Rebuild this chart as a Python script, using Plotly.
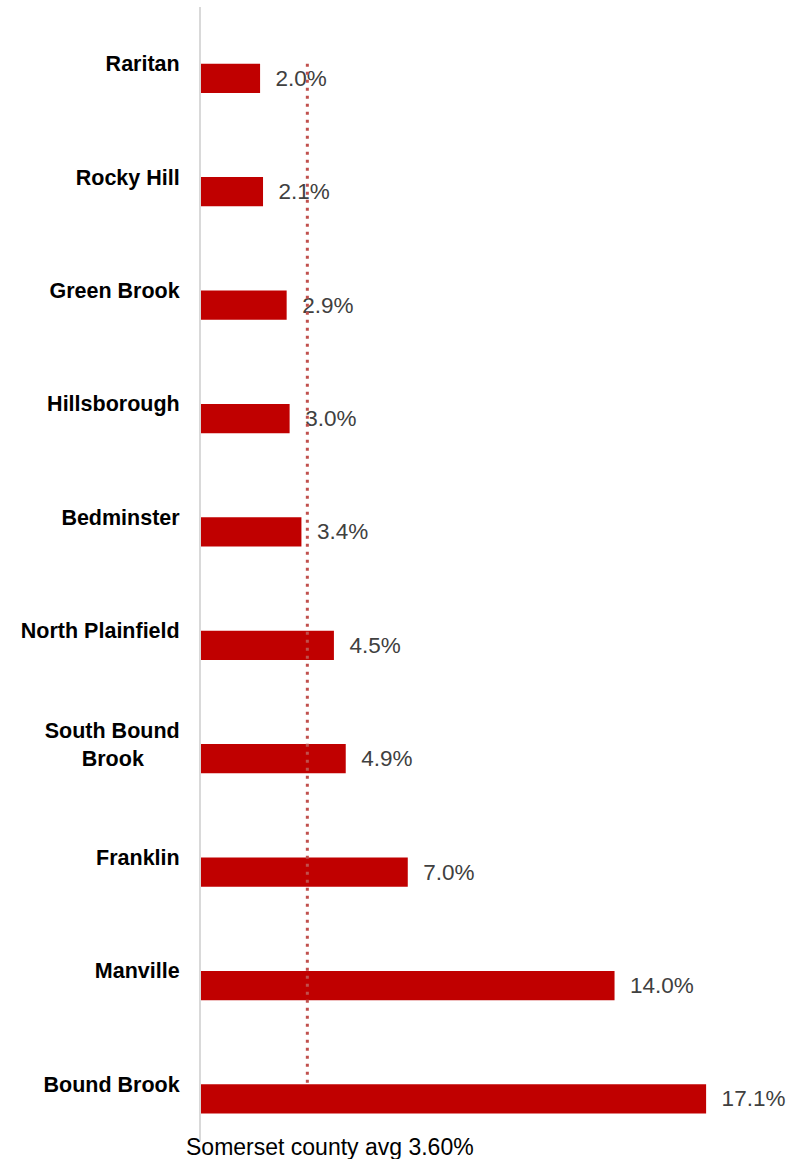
import plotly.graph_objects as go

categories = ["Raritan", "Rocky Hill", "Green Brook", "Hillsborough", "Bedminster",
              "North Plainfield", "South Bound Brook", "Franklin", "Manville", "Bound Brook"]
tick_labels = ["Raritan", "Rocky Hill", "Green Brook", "Hillsborough", "Bedminster",
               "North Plainfield", "South Bound<br>Brook" + "\u00a0" * 6, "Franklin", "Manville", "Bound Brook"]
values = [2.0, 2.1, 2.9, 3.0, 3.4, 4.5, 4.9, 7.0, 14.0, 17.1]
county_avg = 3.6
avg_label = "Somerset county avg 3.60%"

FONT = "Liberation Sans, Arial, sans-serif"

fig = go.Figure()
fig.add_trace(go.Bar(
    x=values, y=categories, orientation="h",
    marker=dict(color="#C00000", line=dict(width=0)),
    width=0.258, offset=0,
    text=["\u00a0\u00a0" + f"{v:.1f}%" for v in values],
    textposition="outside", constraintext="none", cliponaxis=False,
    textfont=dict(family=FONT, size=22.5, color="#404040"),
    hoverinfo="skip",
))
fig.add_trace(go.Scatter(
    x=[county_avg, county_avg], y=[categories[0], categories[-1]],
    mode="lines", line=dict(color="rgb(192,80,77)", width=3, dash="3px,5px"),
    hoverinfo="skip", cliponaxis=False,
))

fig.update_layout(
    width=792, height=1159,
    margin=dict(l=201, r=15, t=7, b=18),
    paper_bgcolor="white", plot_bgcolor="white",
    showlegend=False,
    xaxis=dict(range=[0, 19.5], showgrid=False, zeroline=False, showticklabels=False,
               showline=False, fixedrange=True),
    yaxis=dict(type="category", categoryorder="array", categoryarray=categories,
               autorange="reversed", tickvals=categories, ticktext=tick_labels,
               showgrid=False, zeroline=False, showline=True, linecolor="#D9D9D9",
               linewidth=2, ticks="outside", ticklen=15, tickcolor="rgba(0,0,0,0)",
               tickfont=dict(family=FONT, size=21.5, color="black", weight="bold"),
               fixedrange=True),
    annotations=[dict(
        text=avg_label, xref="paper", yref="paper", x=0.224, y=-0.005,
        xanchor="center", yanchor="middle", showarrow=False,
        font=dict(family=FONT, size=23, color="black"),
    )],
)

fig.write_html("out.html", config={"displayModeBar": False},
               post_script="document.body.style.margin='0';document.body.style.padding='0';")
